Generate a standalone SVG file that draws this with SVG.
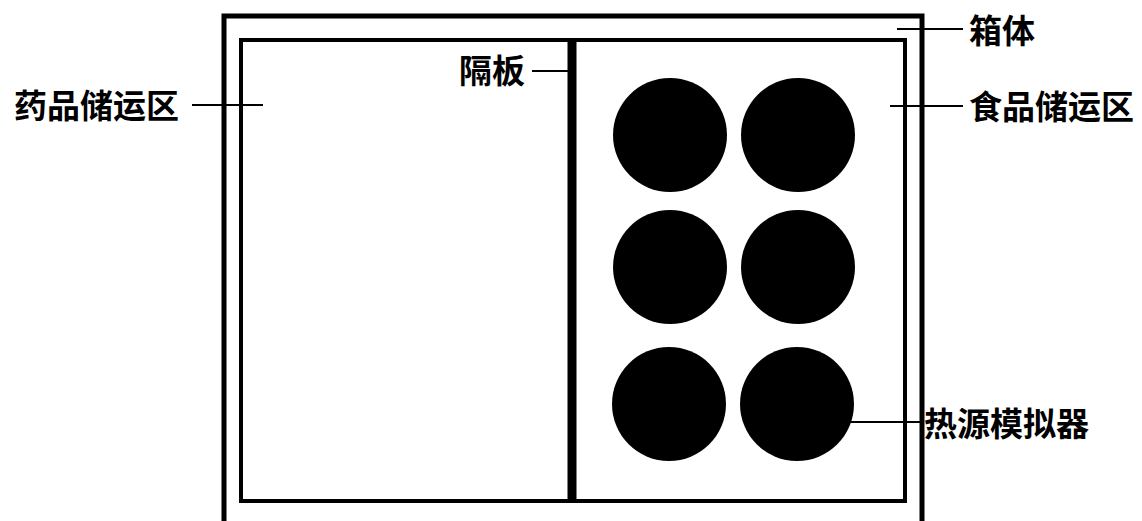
<svg xmlns="http://www.w3.org/2000/svg" width="1142" height="521" viewBox="0 0 1142 521">
<style>
.lbl{font-family:"Noto Sans CJK SC","Noto Sans",sans-serif;font-size:33px;font-weight:700;fill:#000;dominant-baseline:central}
.lead{stroke:#000;stroke-width:2;fill:none}
.heat{fill:#000}
</style>
<rect width="1142" height="521" fill="#fff"/>
<g id="box">
<rect x="224" y="16" width="698" height="510" fill="none" stroke="#000" stroke-width="5"/>
</g>
<g id="inner">
<rect x="241" y="40" width="664" height="461" fill="none" stroke="#000" stroke-width="4"/>
</g>
<g id="partition">
<line x1="572" y1="40" x2="572" y2="501" stroke="#000" stroke-width="9"/>
</g>
<g id="heaters">
<circle class="heat" cx="670" cy="135" r="57"/>
<circle class="heat" cx="798" cy="135" r="57"/>
<circle class="heat" cx="670" cy="267" r="57"/>
<circle class="heat" cx="798" cy="267" r="57"/>
<circle class="heat" cx="669" cy="404" r="57"/>
<circle class="heat" cx="797" cy="404" r="57"/>
</g>
<g id="connectors">
<line class="lead" x1="897" y1="29" x2="963" y2="29"/>
<line class="lead" x1="890" y1="106" x2="963" y2="106"/>
<line class="lead" x1="192" y1="105" x2="263" y2="105"/>
<line class="lead" x1="532" y1="71" x2="568" y2="71"/>
<line class="lead" x1="843" y1="422" x2="922" y2="422"/>
</g>
<g id="label-box"><text class="lbl" x="969" y="29">箱体</text></g>
<g id="label-food"><text class="lbl" x="969" y="105">食品储运区</text></g>
<g id="label-drug"><text class="lbl" x="14" y="104">药品储运区</text></g>
<g id="label-partition"><text class="lbl" x="459" y="69">隔板</text></g>
<g id="label-heat"><text class="lbl" x="924" y="422">热源模拟器</text></g>
</svg>
